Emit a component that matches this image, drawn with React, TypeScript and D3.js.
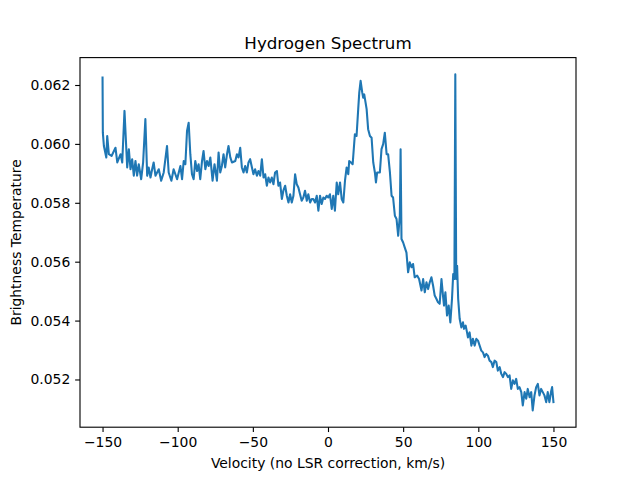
import { useEffect, useRef } from 'react';
import * as d3 from 'd3';

// Velocity (km/s)
const velocity: number[] = [
  -150.0, -149.8, -149.1, -147.5, -146.9, -145.8, -144.0, -141.4, -140.2, -138.0,
  -136.9, -135.4, -133.6, -132.5, -131.4, -130.3, -129.2, -128.1, -127.0, -125.9,
  -124.3, -123.0, -121.5, -120.3, -119.3, -118.1, -117.0, -116.0, -114.8, -112.6,
  -111.0, -109.3, -107.1, -106.0, -104.2, -102.7, -100.4, -98.2, -97.1, -96.0,
  -94.9, -93.8, -92.7, -91.6, -90.5, -89.4, -88.3, -87.1, -86.1, -85.0,
  -83.8, -82.8, -81.6, -80.5, -79.4, -78.3, -76.8, -75.5, -73.9, -72.8,
  -71.7, -70.6, -69.5, -68.4, -67.2, -66.2, -65.0, -63.9, -61.7, -60.6,
  -59.5, -58.4, -57.3, -56.2, -55.1, -54.0, -52.9, -51.8, -50.6, -49.6,
  -48.5, -47.3, -46.3, -45.1, -44.0, -42.9, -41.8, -40.7, -39.6, -38.5,
  -37.4, -36.3, -35.2, -34.0, -33.0, -31.9, -30.7, -29.7, -28.5, -27.4,
  -26.3, -25.2, -24.1, -23.0, -21.9, -20.8, -19.7, -18.6, -17.5, -16.4,
  -15.3, -14.1, -13.1, -11.9, -10.8, -9.8, -8.6, -7.5, -6.4, -5.3,
  -4.2, -3.1, -2.0, -0.9, 0.2, 1.3, 2.5, 3.5, 4.6, 5.8,
  6.8, 8.0, 9.1, 10.2, 11.3, 12.4, 13.5, 14.1, 15.3, 16.4,
  17.3, 17.9, 19.0, 20.1, 20.8, 21.7, 22.8, 23.4, 24.1, 25.0,
  25.7, 26.7, 27.9, 29.0, 30.1, 31.2, 31.9, 32.7, 34.5, 35.6,
  36.7, 37.8, 39.0, 40.0, 41.2, 42.3, 43.3, 44.5, 45.6, 46.7,
  47.8, 48.3, 48.9, 50.0, 51.1, 52.2, 53.3, 54.4, 55.6, 56.6,
  57.7, 59.3, 60.6, 62.2, 63.3, 64.4, 65.5, 66.6, 67.7, 68.8,
  69.9, 71.0, 72.1, 73.2, 74.3, 75.5, 76.5, 77.2, 78.1, 79.2,
  80.3, 81.4, 82.5, 83.3, 84.1, 84.7, 85.3, 85.9, 86.6, 87.6,
  88.7, 89.8, 90.5, 91.6, 92.5, 93.1, 94.2, 95.4, 96.4, 97.6,
  98.7, 99.8, 100.9, 102.0, 103.1, 104.2, 105.3, 106.4, 107.5, 108.7,
  109.7, 110.8, 112.0, 113.0, 114.2, 115.3, 116.4, 117.5, 118.6, 119.7,
  120.8, 121.9, 123.0, 124.1, 125.2, 126.3, 127.4, 128.6, 129.6, 130.8,
  131.9, 132.9, 134.1, 135.2, 136.2, 137.4, 138.5, 139.6, 140.7, 141.8,
  142.9, 144.0, 145.2, 146.2, 147.3, 148.5, 149.1, 150.0,
];

// Brightness temperature at each velocity
const brightness: number[] = [
  0.06225, 0.06038, 0.05993, 0.05954, 0.06027, 0.05965, 0.05959, 0.05987, 0.05937, 0.05965,
  0.05937, 0.06112, 0.05920, 0.05982, 0.05914, 0.05948, 0.05892, 0.05942, 0.05892, 0.05931,
  0.05880, 0.05937, 0.06084, 0.05892, 0.05920, 0.05886, 0.05914, 0.05937, 0.05892, 0.05914,
  0.05875, 0.05903, 0.05993, 0.05903, 0.05875, 0.05914, 0.05880, 0.05925, 0.05880, 0.05942,
  0.05931, 0.06044, 0.06072, 0.05965, 0.05897, 0.05880, 0.05942, 0.05908, 0.05931, 0.05880,
  0.05942, 0.05976, 0.05914, 0.05942, 0.05925, 0.05954, 0.05875, 0.05931, 0.05875, 0.05971,
  0.05903, 0.05925, 0.05965, 0.05920, 0.05965, 0.05993, 0.05954, 0.05937, 0.05942, 0.05965,
  0.05954, 0.05987, 0.05920, 0.05903, 0.05925, 0.05903, 0.05937, 0.05948, 0.05920, 0.05897,
  0.05914, 0.05892, 0.05908, 0.05892, 0.05948, 0.05886, 0.05897, 0.05858, 0.05886, 0.05869,
  0.05886, 0.05863, 0.05903, 0.05908, 0.05858, 0.05869, 0.05813, 0.05841, 0.05858, 0.05824,
  0.05801, 0.05829, 0.05801, 0.05824, 0.05897, 0.05863, 0.05852, 0.05829, 0.05807, 0.05818,
  0.05841, 0.05807, 0.05829, 0.05801, 0.05813, 0.05813, 0.05801, 0.05824, 0.05773, 0.05824,
  0.05796, 0.05818, 0.05813, 0.05824, 0.05818, 0.05829, 0.05779, 0.05824, 0.05773, 0.05869,
  0.05829, 0.05869, 0.05813, 0.05801, 0.05875, 0.05920, 0.05897, 0.05942, 0.05937, 0.05931,
  0.05993, 0.06033, 0.06027, 0.06118, 0.06174, 0.06214, 0.06174, 0.06157, 0.06168, 0.06140,
  0.06118, 0.06050, 0.06027, 0.06021, 0.05937, 0.05903, 0.05869, 0.05903, 0.05903, 0.05982,
  0.05999, 0.06038, 0.05965, 0.05965, 0.05903, 0.05824, 0.05818, 0.05756, 0.05745, 0.05688,
  0.05756, 0.05982, 0.05677, 0.05665, 0.05648, 0.05631, 0.05564, 0.05598, 0.05581, 0.05592,
  0.05547, 0.05553, 0.05541, 0.05502, 0.05541, 0.05496, 0.05530, 0.05507, 0.05530, 0.05547,
  0.05519, 0.05485, 0.05474, 0.05462, 0.05457, 0.05541, 0.05485, 0.05451, 0.05496, 0.05417,
  0.05451, 0.05394, 0.05474, 0.05558, 0.05541, 0.06236, 0.05541, 0.05586, 0.05474, 0.05406,
  0.05377, 0.05394, 0.05372, 0.05383, 0.05360, 0.05343, 0.05360, 0.05315, 0.05338, 0.05315,
  0.05338, 0.05332, 0.05315, 0.05298, 0.05292, 0.05276, 0.05287, 0.05281, 0.05264, 0.05259,
  0.05242, 0.05264, 0.05259, 0.05230, 0.05242, 0.05219, 0.05208, 0.05225, 0.05219, 0.05208,
  0.05214, 0.05168, 0.05197, 0.05185, 0.05202, 0.05168, 0.05174, 0.05157, 0.05112, 0.05157,
  0.05135, 0.05168, 0.05140, 0.05157, 0.05095, 0.05146, 0.05174, 0.05185, 0.05146, 0.05168,
  0.05157, 0.05146, 0.05123, 0.05157, 0.05123, 0.05161, 0.05174, 0.05123,
];

const xTicks = [-150, -100, -50, 0, 50, 100, 150];
const yTicks = [0.052, 0.054, 0.056, 0.058, 0.06, 0.062];

const WIDTH = 640;
const HEIGHT = 480;

export default function App() {
  const svgRef = useRef<SVGSVGElement>(null);

  useEffect(() => {
    if (!svgRef.current) return;
    const svg = d3.select(svgRef.current);
    svg.selectAll('*').remove();

    // matplotlib default subplot box
    const margin = { top: 57.6, right: 64, bottom: 52.8, left: 80 };
    const w = WIDTH - margin.left - margin.right;
    const h = HEIGHT - margin.top - margin.bottom;
    const font = 'DejaVu Sans, sans-serif';

    const points = velocity.map((v, i) => [v, brightness[i]] as [number, number]);

    const [x0, x1] = d3.extent(velocity) as [number, number];
    const [y0, y1] = d3.extent(brightness) as [number, number];
    const xPad = (x1 - x0) * 0.05;
    const yPad = (y1 - y0) * 0.05;

    const x = d3.scaleLinear().domain([x0 - xPad, x1 + xPad]).range([0, w]);
    const y = d3.scaleLinear().domain([y0 - yPad, y1 + yPad]).range([h, 0]);

    const g = svg.append('g').attr('transform', `translate(${margin.left},${margin.top})`);

    // Line
    const line = d3.line<[number, number]>()
      .x((d) => x(d[0]))
      .y((d) => y(d[1]));

    g.append('path')
      .datum(points)
      .attr('d', line)
      .attr('fill', 'none')
      .attr('stroke', '#1f77b4')
      .attr('stroke-width', 2.08)
      .attr('stroke-linejoin', 'round')
      .attr('stroke-linecap', 'square');

    // X axis
    const xAxis = g.append('g')
      .attr('transform', `translate(0,${h})`)
      .call(d3.axisBottom(x).tickValues(xTicks).tickSize(4.86).tickPadding(4.86)
        .tickFormat((d) => `${d}`.replace('-', '\u2212')));
    xAxis.select('.domain').remove();
    xAxis.selectAll('line').attr('stroke', '#000').attr('stroke-width', 1.11);
    xAxis.selectAll('text')
      .attr('fill', '#000')
      .style('font-family', font)
      .style('font-size', '13.9px');

    // Y axis
    const yAxis = g.append('g')
      .call(d3.axisLeft(y).tickValues(yTicks).tickSize(4.86).tickPadding(4.86)
        .tickFormat(d3.format('.3f')));
    yAxis.select('.domain').remove();
    yAxis.selectAll('line').attr('stroke', '#000').attr('stroke-width', 1.11);
    yAxis.selectAll('text')
      .attr('fill', '#000')
      .style('font-family', font)
      .style('font-size', '13.9px');

    // Frame
    g.append('rect')
      .attr('width', w)
      .attr('height', h)
      .attr('fill', 'none')
      .attr('stroke', '#000')
      .attr('stroke-width', 1.11);

    // Title and labels
    svg.append('text')
      .attr('x', margin.left + w / 2)
      .attr('y', margin.top - 8.3)
      .attr('text-anchor', 'middle')
      .style('font-family', font)
      .style('font-size', '16.7px')
      .text('Hydrogen Spectrum');

    svg.append('text')
      .attr('x', margin.left + w / 2)
      .attr('y', 468)
      .attr('text-anchor', 'middle')
      .style('font-family', font)
      .style('font-size', '13.9px')
      .text('Velocity (no LSR correction, km/s)');

    svg.append('text')
      .attr('transform', `translate(21,${margin.top + h / 2}) rotate(-90)`)
      .attr('text-anchor', 'middle')
      .style('font-family', font)
      .style('font-size', '13.9px')
      .text('Brightness Temperature');
  }, []);

  return (
    <svg
      ref={svgRef}
      width={WIDTH}
      height={HEIGHT}
      style={{ position: 'absolute', left: 0, top: 0, background: '#fff' }}
    />
  );
}
